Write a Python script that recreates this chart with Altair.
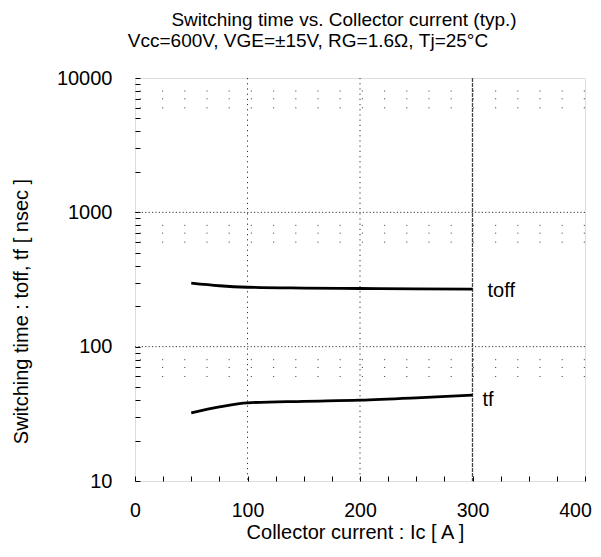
import altair as alt
import pandas as pd

# ---- data ----
ic = [50, 75, 100, 150, 200, 250, 300]
toff = [297, 284, 277, 273, 271, 269, 268]
tf = [32.2, 35.6, 38.2, 39.2, 40.0, 41.6, 43.6]
series_names = ["toff", "tf"]

title_lines = [
    "Switching time vs. Collector current (typ.)",
    "Vcc=600V, VGE=\u00b115V, RG=1.6\u03a9, Tj=25\u00b0C",
]
x_title = "Collector current : Ic [ A ]"
y_title = "Switching time : toff, tf [ nsec ]"

x_ticks = [0, 25, 50, 75, 100, 125, 150, 175, 200, 225, 250, 275, 300, 325, 350, 375, 400]
x_labels = [0, 100, 200, 300, 400]
y_ticks = [10, 20, 30, 40, 50, 60, 70, 80, 90,
           100, 200, 300, 400, 500, 600, 700, 800, 900,
           1000, 2000, 3000, 4000, 5000, 6000, 7000, 8000, 9000, 10000]
y_labels = [10, 100, 1000, 10000]

y_grid_major = [100, 1000]
y_grid_minor = [60, 70, 80, 600, 700, 800, 6000, 7000, 8000]
x_grid_dotted = [100, 200]
x_grid_solid = [300]

FONT = "Liberation Sans"

df = pd.DataFrame({
    "ic": ic + ic,
    "t": toff + tf,
    "series": [series_names[0]] * len(ic) + [series_names[1]] * len(ic),
})
df_end = pd.DataFrame({
    "ic": [ic[-1], ic[-1]],
    "t": [toff[-1], tf[-1]],
    "series": series_names,
})

xscale = alt.Scale(domain=[0, 400], nice=False, zero=False)
yscale = alt.Scale(type="log", domain=[10, 10000], nice=False)

xaxis = alt.Axis(
    values=x_ticks,
    labelExpr="indexof(%s, datum.value) >= 0 ? format(datum.value, 'd') : ''" % str(x_labels),
    offset=-5, tickSize=5, domain=False, grid=False,
    tickColor="black", tickWidth=1,
    labelPadding=20, labelFontSize=19.5, labelFont=FONT, labelColor="black",
    labelOverlap=False, labelFlush=False,
    labelOffset={"condition": {"test": "datum.value == %d" % x_labels[-1], "value": -10}, "value": 0},
    title=x_title, titleFont=FONT, titleFontSize=20, titleFontWeight="normal",
    titleColor="black", titleX=220, titleY=62, titleBaseline="alphabetic",
    titleAlign="center",
)
yaxis = alt.Axis(
    values=y_ticks,
    labelExpr="indexof(%s, datum.value) >= 0 ? format(datum.value, 'd') : ''" % str(y_labels),
    offset=-5, tickSize=5, domain=False, grid=False,
    tickColor="black", tickWidth=1,
    labelPadding=23, labelFontSize=20, labelFont=FONT, labelColor="black",
    labelOverlap=False, labelFlush=False,
    title=y_title, titleFont=FONT, titleFontSize=20, titleFontWeight="normal",
    titleColor="black", titleX=-119, titleY=233, titleAngle=270,
    titleAlign="center", titleBaseline="middle",
)

X = lambda f: alt.X(f, scale=xscale, axis=xaxis)
Y = lambda f: alt.Y(f, scale=yscale, axis=yaxis)

grid_major = alt.Chart(pd.DataFrame({"t": y_grid_major})).mark_rule(
    color="#333333", strokeWidth=1, strokeDash=[1.2, 2.2]
).encode(y=Y("t:Q"))

grid_minor = alt.Chart(pd.DataFrame({"t": y_grid_minor})).mark_rule(
    color="#555555", strokeWidth=1, strokeDash=[1.2, 21]
).encode(y=Y("t:Q"))

grid_xdot = alt.Chart(pd.DataFrame({"ic": x_grid_dotted})).mark_rule(
    color="#333333", strokeWidth=1, strokeDash=[1.2, 4]
).encode(x=X("ic:Q"))

grid_xsolid = alt.Chart(pd.DataFrame({"ic": x_grid_solid})).mark_rule(
    color="#444444", strokeWidth=1.3, strokeDash=[4, 1]
).encode(x=X("ic:Q"))

lines = alt.Chart(df).mark_line(
    color="black", strokeWidth=2.8, interpolate="monotone"
).encode(x=X("ic:Q"), y=Y("t:Q"), detail="series:N")

lab_toff = alt.Chart(df_end).transform_filter(
    alt.datum.series == series_names[0]
).mark_text(align="left", baseline="middle", dx=15, dy=2, fontSize=20, font=FONT, color="black").encode(
    x=X("ic:Q"), y=Y("t:Q"), text="series:N")

lab_tf = alt.Chart(df_end).transform_filter(
    alt.datum.series == series_names[1]
).mark_text(align="left", baseline="middle", dx=10, dy=5, fontSize=20, font=FONT, color="black").encode(
    x=X("ic:Q"), y=Y("t:Q"), text="series:N")

title1 = alt.Chart(pd.DataFrame({"s": [title_lines[0]]})).mark_text(
    align="center", baseline="alphabetic", fontSize=19, font=FONT, color="black"
).encode(x=alt.value(209), y=alt.value(-52.5), text="s:N")

title2 = alt.Chart(pd.DataFrame({"s": [title_lines[1]]})).mark_text(
    align="center", baseline="alphabetic", fontSize=19, font=FONT, color="black"
).encode(x=alt.value(173), y=alt.value(-31), text="s:N")

chart = alt.layer(
    grid_minor, grid_major, grid_xdot, grid_xsolid, lines, lab_toff, lab_tf, title1, title2
).properties(
    width=450, height=403,
    padding={"left": 127, "top": 70, "right": 8, "bottom": 68},
    autosize="none",
).configure_view(stroke="black", strokeWidth=1.2).configure(background="white")

chart.save("out.html", embed_options={"renderer": "svg", "actions": False})
